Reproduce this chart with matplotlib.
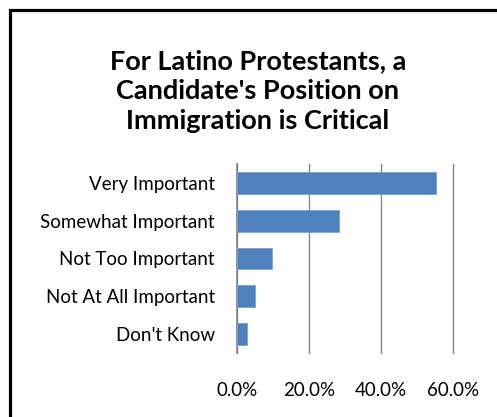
import matplotlib.pyplot as plt
from matplotlib.patches import Rectangle
from matplotlib.ticker import FuncFormatter

categories = ["Very Important", "Somewhat Important", "Not Too Important",
              "Not At All Important", "Don't Know"]
values = [0.551, 0.284, 0.098, 0.050, 0.028]
x_ticks = [0.0, 0.2, 0.4, 0.6]

plt.rcParams['font.family'] = ['Lato', 'DejaVu Sans']

fig = plt.figure(figsize=(4.97, 4.17), dpi=100)
ax = fig.add_axes([237 / 497, 1 - 353 / 417, (453.3 - 237) / 497, (353 - 164) / 417])

# outer chart frame (cut off at right and bottom like the source)
fig.patches.append(Rectangle((10 / 497, -0.1), 1.5, 1 - 10 / 417 + 0.1,
                             transform=fig.transFigure, fill=False,
                             edgecolor='black', linewidth=2.3))

pos = list(range(len(categories)))[::-1]
ax.barh(pos, values, height=0.58, color='#4F81BD', edgecolor='#7EA1CF', linewidth=0.6, zorder=3)

ax.set_xlim(0, 0.6)
ax.set_ylim(-0.5, len(categories) - 0.5)
ax.set_xticks(x_ticks)
ax.xaxis.set_major_formatter(FuncFormatter(lambda v, p: f"{v * 100:.1f}%"))
ax.set_yticks(pos)
ax.set_yticklabels(categories)

ax.grid(axis='x', color='#868686', linewidth=1.0, zorder=0)
for gl in ax.get_xgridlines():
    gl.set_clip_on(False)
for s in ['top', 'right', 'bottom']:
    ax.spines[s].set_visible(False)
ax.spines['left'].set_color('#868686')
ax.spines['left'].set_linewidth(1.2)
ax.tick_params(axis='x', length=0, pad=21, labelsize=13.5, colors='black')
ax.tick_params(axis='y', length=0, pad=16, labelsize=13.5, colors='black')

fig.text(258 / 497, 1 - 91 / 417, "For Latino Protestants, a\nCandidate's Position on\nImmigration is Critical",
         ha='center', va='center', fontsize=19.5, fontweight='bold', linespacing=1.3)

fig.savefig('out.png', dpi=100)
